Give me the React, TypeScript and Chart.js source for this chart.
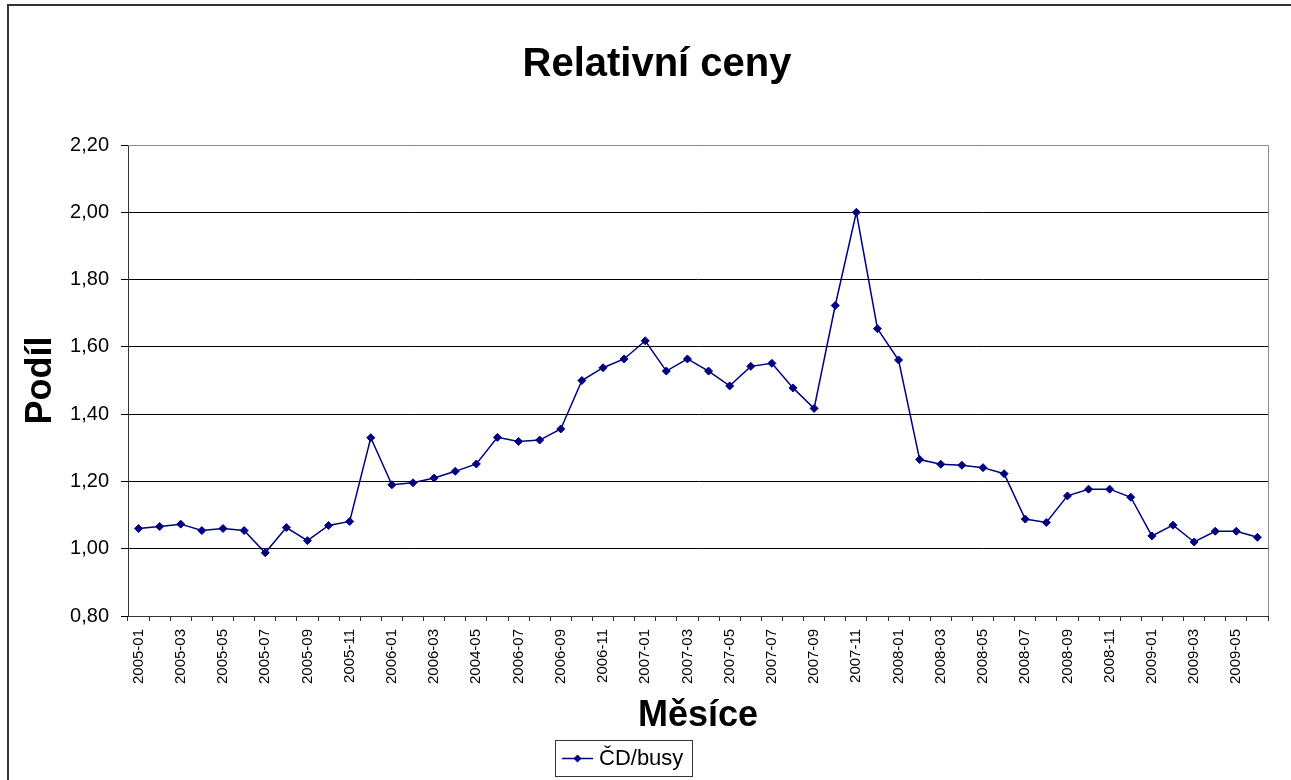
import React, { useEffect, useRef } from "react";
import { Chart, registerables } from "chart.js";

Chart.register(...registerables);

// Monthly categories (2005-01 … 2009-06); the 2006-05 slot carries the "2004-05" caption.
const months: string[] = [
  "2005-01", "2005-02", "2005-03", "2005-04", "2005-05", "2005-06",
  "2005-07", "2005-08", "2005-09", "2005-10", "2005-11", "2005-12",
  "2006-01", "2006-02", "2006-03", "2006-04", "2004-05", "2006-06",
  "2006-07", "2006-08", "2006-09", "2006-10", "2006-11", "2006-12",
  "2007-01", "2007-02", "2007-03", "2007-04", "2007-05", "2007-06",
  "2007-07", "2007-08", "2007-09", "2007-10", "2007-11", "2007-12",
  "2008-01", "2008-02", "2008-03", "2008-04", "2008-05", "2008-06",
  "2008-07", "2008-08", "2008-09", "2008-10", "2008-11", "2008-12",
  "2009-01", "2009-02", "2009-03", "2009-04", "2009-05", "2009-06",
];

// Price ratio ČD / buses for each month
const ratio: number[] = [
  1.06, 1.066, 1.073, 1.054, 1.06, 1.054,
  0.988, 1.063, 1.024, 1.069, 1.081, 1.33,
  1.19, 1.196, 1.21, 1.23, 1.252, 1.331,
  1.319, 1.323, 1.356, 1.5, 1.538, 1.564,
  1.618, 1.528, 1.564, 1.528, 1.484, 1.542,
  1.551, 1.478, 1.417, 1.723, 2.0, 1.654,
  1.561, 1.265, 1.251, 1.248, 1.241, 1.223,
  1.088, 1.078, 1.157, 1.177, 1.177, 1.153,
  1.038, 1.07, 1.02, 1.052, 1.052, 1.034,
];

const yMin = 0.8;
const yMax = 2.2;
const yStep = 0.2;

const seriesLabel = "ČD/busy";
const chartTitle = "Relativní ceny";
const xTitle = "Měsíce";
const yTitle = "Podíl";

const FONT = "'Liberation Sans', Arial, Helvetica, sans-serif";
const NAVY = "#000080";

// Gray frame on the top and right edges of the plot area
const plotFrame = {
  id: "plotFrame",
  beforeDatasetsDraw(chart: any) {
    const { ctx, chartArea } = chart;
    const { left, top, right, bottom } = chartArea;
    ctx.save();
    ctx.strokeStyle = "#8c8c8c";
    ctx.lineWidth = 1;
    ctx.beginPath();
    ctx.moveTo(left, top + 0.5);
    ctx.lineTo(right + 0.5, top + 0.5);
    ctx.lineTo(right + 0.5, bottom);
    ctx.stroke();
    ctx.restore();
  },
};

// Legend drawn inside a bordered box
const boxedLegend = {
  id: "boxedLegend",
  afterDraw(chart: any, _args: any, opts: any) {
    const ds = chart.data.datasets[0];
    const { ctx } = chart;
    const { x, y, width, height, lineLength, fontSize } = opts;
    ctx.save();
    ctx.fillStyle = "#fff";
    ctx.fillRect(x, y, width, height);
    ctx.strokeStyle = "#333";
    ctx.lineWidth = 1;
    ctx.strokeRect(x + 0.5, y + 0.5, width, height);
    const cy = y + height / 2 + 0.5;
    const lx = x + 7;
    ctx.strokeStyle = ds.borderColor;
    ctx.lineWidth = ds.borderWidth;
    ctx.beginPath();
    ctx.moveTo(lx, cy);
    ctx.lineTo(lx + lineLength, cy);
    ctx.stroke();
    const mx = lx + lineLength / 2;
    const r = ds.pointRadius;
    ctx.fillStyle = ds.pointBackgroundColor;
    ctx.beginPath();
    ctx.moveTo(mx, cy - r);
    ctx.lineTo(mx + r, cy);
    ctx.lineTo(mx, cy + r);
    ctx.lineTo(mx - r, cy);
    ctx.closePath();
    ctx.fill();
    ctx.fillStyle = "#000";
    ctx.font = `${fontSize}px ${FONT}`;
    ctx.textAlign = "left";
    ctx.textBaseline = "middle";
    ctx.fillText(ds.label, lx + lineLength + 6, cy);
    ctx.restore();
  },
};

export default function App() {
  const canvasRef = useRef<HTMLCanvasElement>(null);

  useEffect(() => {
    const canvas = canvasRef.current;
    if (!canvas) return;
    const chart = new Chart(canvas, {
      type: "line",
      data: {
        labels: months,
        datasets: [
          {
            label: seriesLabel,
            data: ratio,
            borderColor: NAVY,
            backgroundColor: NAVY,
            borderWidth: 1.5,
            tension: 0,
            fill: false,
            pointStyle: "rectRot",
            pointRadius: 4,
            pointBackgroundColor: NAVY,
            pointBorderColor: NAVY,
            pointBorderWidth: 1,
          },
        ],
      },
      options: {
        responsive: false,
        animation: false,
        devicePixelRatio: 1,
        events: [],
        layout: { padding: { top: 41, left: 0, right: 0, bottom: 42 } },
        plugins: {
          legend: { display: false },
          tooltip: { enabled: false },
          title: {
            display: true,
            text: chartTitle,
            color: "#000",
            font: { family: FONT, size: 40, weight: "bold", lineHeight: 1.2 },
            padding: { top: 0, bottom: 56 },
          },
          boxedLegend: { x: 555, y: 740, width: 137, height: 36, lineLength: 31, fontSize: 22 },
        } as any,
        scales: {
          x: {
            type: "category",
            offset: true,
            grid: {
              offset: true,
              drawOnChartArea: false,
              drawTicks: true,
              tickLength: 5,
              color: "#333",
              lineWidth: 1,
            },
            border: { display: true, color: "#333", width: 1 },
            ticks: {
              autoSkip: false,
              maxRotation: 90,
              minRotation: 90,
              padding: 8,
              color: "#000",
              font: { family: FONT, size: 15 },
              callback: (_v: any, i: number) => (i % 2 === 0 ? months[i] : ""),
            },
            title: {
              display: true,
              text: xTitle,
              color: "#000",
              font: { family: FONT, size: 36, weight: "bold", lineHeight: 1.2 },
              padding: { top: 0, bottom: 0 },
            },
            afterFit: (s: any) => {
              s.height = 122;
            },
          },
          y: {
            min: yMin,
            max: yMax,
            ticks: {
              stepSize: yStep,
              padding: 12,
              color: "#000",
              font: { family: FONT, size: 20 },
              callback: (v: any) => Number(v).toFixed(2).replace(".", ","),
            },
            grid: { color: "#000", lineWidth: 1, drawTicks: true, tickLength: 7 },
            border: { display: true, color: "#333", width: 1 },
            title: {
              display: true,
              text: yTitle,
              color: "#000",
              font: { family: FONT, size: 36, weight: "bold", lineHeight: 1.2 },
              padding: { top: 19, bottom: 0 },
            },
            afterFit: (s: any) => {
              s.width = 128;
            },
          },
          // empty margin on the right of the plot area
          yRight: {
            position: "right",
            display: true,
            grid: { display: false, drawTicks: false },
            border: { display: false },
            ticks: { display: false },
            afterFit: (s: any) => {
              s.width = 46;
            },
          },
        },
      } as any,
      plugins: [plotFrame, boxedLegend],
    });
    return () => chart.destroy();
  }, []);

  return (
    <div
      style={{
        position: "fixed",
        left: 0,
        top: 0,
        width: "100vw",
        height: "100vh",
        overflow: "hidden",
        background: "#fff",
      }}
    >
      <div
        style={{
          position: "absolute",
          left: 7,
          top: 4,
          width: 1400,
          height: 900,
          borderLeft: "2px solid #333",
          borderTop: "2px solid #333",
        }}
      />
      <canvas
        ref={canvasRef}
        width={1314}
        height={780}
        style={{ position: "absolute", left: 0, top: 0, width: 1314, height: 780 }}
      />
    </div>
  );
}
